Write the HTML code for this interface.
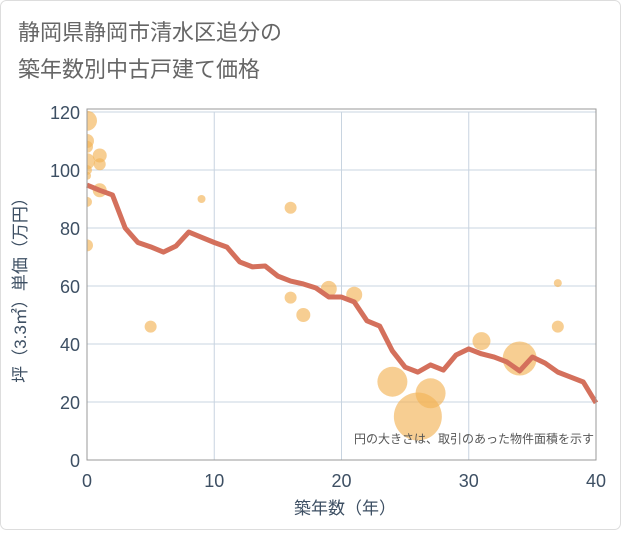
<!DOCTYPE html>
<html><head><meta charset="utf-8"><style>
html,body{margin:0;padding:0;background:#fff;}
svg text{font-family:"Liberation Sans","Noto Sans CJK JP",sans-serif;}
</style></head><body>
<svg width="621" height="530" viewBox="0 0 621 530">
<defs><clipPath id="plotclip"><rect x="87" y="109" width="509" height="351"/></clipPath></defs>
<rect x="0.5" y="0.5" width="620" height="529" rx="6" fill="#fff" stroke="#ddd"/>
<text x="18" y="40" font-size="22" fill="#666">静岡県静岡市清水区追分の</text>
<text x="18" y="77" font-size="22" fill="#666">築年数別中古戸建て価格</text>
<g id="grid"></g>
<g id="bubbles" clip-path="url(#plotclip)"></g>
<g id="line"></g>
<g id="axes"></g>
<text x="594" y="443" font-size="12" fill="#555" text-anchor="end">円の大きさは、取引のあった物件面積を示す</text>
<text x="345" y="514" font-size="17" fill="#3d4f63" text-anchor="middle">築年数（年）</text>
<text transform="translate(26,286) rotate(-90)" font-size="17" fill="#3d4f63" text-anchor="middle">坪（3.3㎡）単価（万円）</text>
</svg>
<script>
const xTicks=[0,10,20,30,40];
const yTicks=[0,20,40,60,80,100,120];
const lineYears=[0,1,2,3,4,5,6,7,8,9,10,11,12,13,14,15,16,17,18,19,20,21,22,23,24,25,26,27,28,29,30,31,32,33,34,35,36,37,38,39,40];
const lineValues=[94.8,93,91.4,80,75,73.5,71.7,73.8,78.6,76.8,75,73.4,68.3,66.6,66.9,63.4,61.7,60.7,59.3,56.2,56.2,54.5,48,46.2,37.6,32,30.3,32.8,31,36.2,38.3,36.6,35.5,33.8,30.7,35.5,33.4,30.3,28.6,26.9,19.7];
const bubbleX=[0,0,0,0,0,0,1,1,1,0,0,9,16,16,17,5,19,21,24,26,27,31,34,37,37];
const bubbleY=[117,110,108,103,100,98,105,102,93,89,74,90,87,56,50,46,59,57,27,15,23,41,35,61,46];
const bubbleR=[10,7,6,8,5,4,7,6,7,5,6,4,6,6,7,6,8,8,15,24,15,9,17,4,6];
const NS="http://www.w3.org/2000/svg";
const X0=87,X1=596,Y0=460,Y1=112;
const sx=v=>X0+(v/40)*(X1-X0);
const sy=v=>Y0-(v/120)*(Y0-Y1);
function mk(t,a,p){const e=document.createElementNS(NS,t);for(const k in a)e.setAttribute(k,a[k]);p.appendChild(e);return e;}
const grid=document.getElementById('grid'),axes=document.getElementById('axes');
xTicks.forEach(t=>{const l=mk('line',{x1:sx(t),x2:sx(t),y1:Y1,y2:Y0,stroke:'#c8d4e0','stroke-width':1},grid);


const tx=mk('text',{x:sx(t),y:487,'font-size':18,fill:'#3d4f63','text-anchor':'middle'},axes);tx.textContent=t;

});
yTicks.forEach(t=>{const l=mk('line',{x1:X0,x2:X1,y1:sy(t),y2:sy(t),stroke:'#c8d4e0','stroke-width':1},grid);


const tx=mk('text',{x:80,y:sy(t)+7,'font-size':18,fill:'#3d4f63','text-anchor':'end'},axes);tx.textContent=t;

});
const fr=mk('rect',{x:X0,y:Y1-3,width:X1-X0,height:Y0-Y1+3,fill:'none',stroke:'#999','stroke-width':1},axes);


const bg=document.getElementById('bubbles');
bubbleX.forEach((x,i)=>{const c=mk('circle',{cx:sx(x),cy:sy(bubbleY[i]),r:bubbleR[i],fill:'#f2b457','fill-opacity':0.65},bg);

});
const pts=lineYears.map((y,i)=>sx(y)+','+sy(lineValues[i])).join(' ');
const pl=mk('polyline',{points:pts,fill:'none',stroke:'#d4705c','stroke-width':5,'stroke-linejoin':'round'},document.getElementById('line'));


</script>
</body></html>
